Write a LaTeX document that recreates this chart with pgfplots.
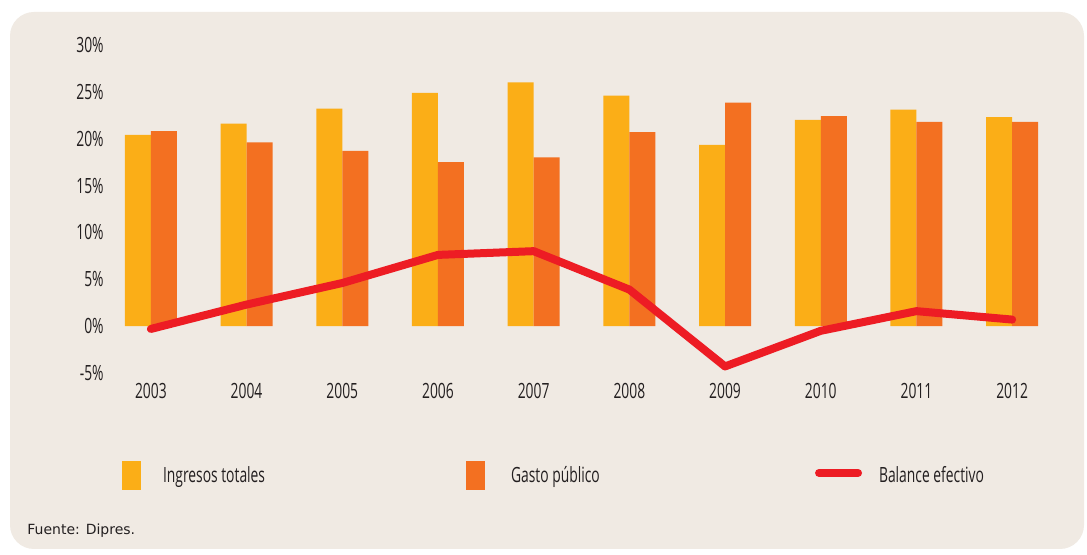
\documentclass[border=0pt]{standalone}
\usepackage{pgfplots}
\pgfplotsset{compat=1.18}
\usepackage{fontspec}
\setmainfont{Open Sans}[FakeStretch=0.66]
\newfontfamily\notefont{DejaVu Sans}
\definecolor{panel}{HTML}{F0EAE3}
\definecolor{ing}{HTML}{FBAE17}
\definecolor{gas}{HTML}{F37021}
\definecolor{bal}{HTML}{ED1C24}
\definecolor{txt}{HTML}{231F20}

\begin{document}
\begin{tikzpicture}
\useasboundingbox (0pt,0pt) rectangle (543.5pt,277.5pt);
\fill[white] (0pt,0pt) rectangle (543.5pt,277.5pt);
\fill[panel, rounded corners=12pt] (5pt,3pt) rectangle (542pt,271.5pt);
\begin{axis}[at={(51.5pt,91pt)}, anchor=south west,
  scale only axis, width=478.5pt, height=164pt,
  xmin=-0.5, xmax=9.5, ymin=-5, ymax=30,
  axis line style={draw=none}, major tick length=0pt,
  xtick={0,...,9},
  xticklabels={2003,2004,2005,2006,2007,2008,2009,2010,2011,2012},
  ytick={-5,0,5,10,15,20,25,30},
  yticklabel={\pgfmathprintnumber{\tick}\%},
  /pgf/number format/assume math mode=true,
  tick label style={font=\fontsize{10.5}{12}\selectfont, text=txt},
  yticklabel style={anchor=east, inner sep=0pt, xshift=0.5pt},
  xticklabel style={anchor=north, inner sep=0pt, yshift=-5pt},
  ybar=0pt, bar width=13pt,
  legend columns=3,
  legend style={at={(0.0199,-0.314)}, anchor=west, draw=none, fill=none,
    inner sep=0pt, outer sep=0pt, font=\fontsize{10.5}{12}\selectfont, text=txt,
    nodes={inner sep=0pt},
    /tikz/every odd column/.style={column sep=0pt},
    /tikz/every even column/.style={column sep=0pt}},
  legend cell align=left]
\addplot[fill=ing, draw=none,
  legend image code/.code={\fill[ing] (0pt,-7.25pt) rectangle (9.5pt,7.25pt);
    \path[draw=none, fill=none] (0pt,0pt) -- (20.5pt,0pt);}]
  coordinates {(0,20.4) (1,21.6) (2,23.2) (3,24.9) (4,26.0) (5,24.6) (6,19.35) (7,22.0) (8,23.1) (9,22.3)};
\addlegendentry{\makebox[151.5pt][l]{Ingresos totales}}
\addplot[fill=gas, draw=none,
  legend image code/.code={\fill[gas] (0pt,-7.25pt) rectangle (9.5pt,7.25pt);
    \path[draw=none, fill=none] (0pt,0pt) -- (22.5pt,0pt);}]
  coordinates {(0,20.8) (1,19.6) (2,18.7) (3,17.5) (4,18.0) (5,20.7) (6,23.85) (7,22.4) (8,21.8) (9,21.8)};
\addlegendentry{\makebox[152pt][l]{Gasto público}}
\addplot[sharp plot, color=bal, line width=4pt, line cap=round, line join=round,
  legend image code/.code={\draw[bal, line width=4pt, line cap=round] (2pt,1.5pt) -- (21.5pt,1.5pt);
    \path[draw=none, fill=none] (0pt,0pt) -- (32pt,0pt);}]
  coordinates {(0,-0.3) (1,2.3) (2,4.6) (3,7.6) (4,8.0) (5,3.9) (6,-4.3) (7,-0.5) (8,1.6) (9,0.7)};
\addlegendentry{Balance efectivo}
\end{axis}
\node[anchor=base west, inner sep=0pt, text=txt, font=\notefont\fontsize{7}{8}\selectfont] at (13.5pt,10pt) {Fuente: Dipres.};
\end{tikzpicture}
\end{document}
